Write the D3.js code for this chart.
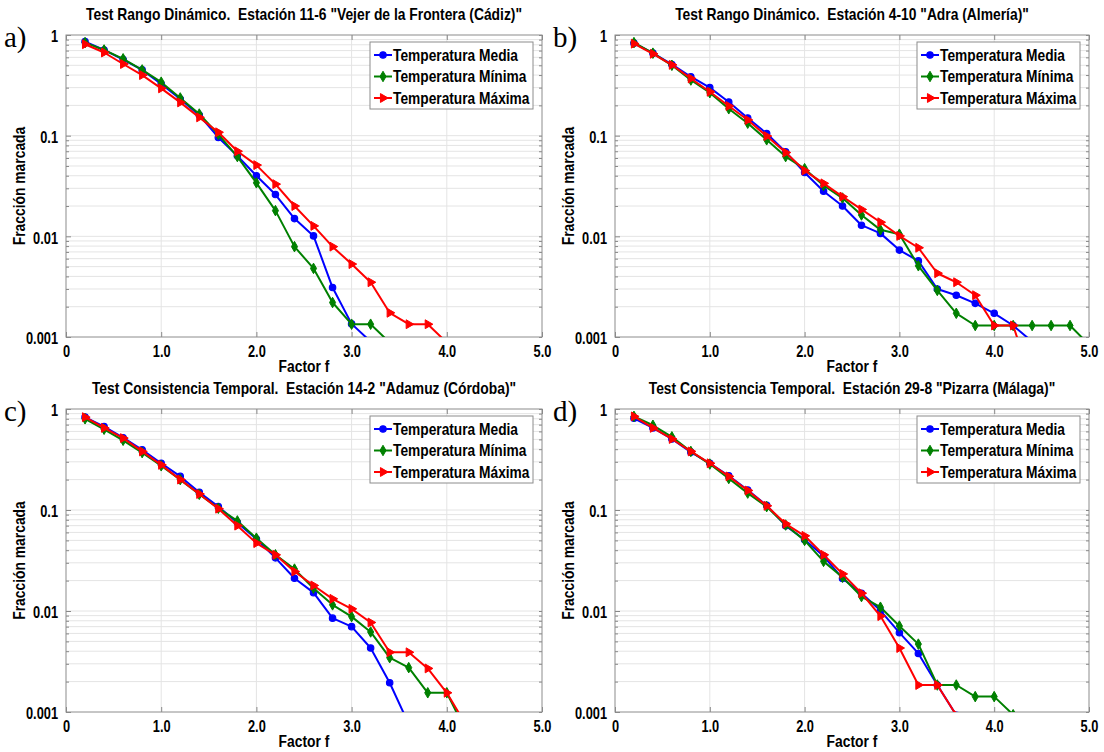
<!DOCTYPE html>
<html><head><meta charset="utf-8">
<script src="https://cdn.jsdelivr.net/npm/d3@7"></script>
<style>
html,body{margin:0;padding:0;background:#fff;}
svg{display:block;}
text{white-space:pre;}
</style></head>
<body>
<svg id="chart" width="1104" height="752"></svg>
<script>
// ---------- DATA ----------
const factorF = [0.2,0.4,0.6,0.8,1.0,1.2,1.4,1.6,1.8,2.0,2.2,2.4,2.6,2.8,3.0,3.2,3.4,3.6,3.8,4.0,4.2,4.4,4.6,4.8,5.0];
const seriesNames = ["Temperatura Media","Temperatura Mínima","Temperatura Máxima"];
const xTickValues = [0,1,2,3,4,5];
const xTickLabels = ["0","1.0","2.0","3.0","4.0","5.0"];
const yTickValues = [1,0.1,0.01,0.001];
const yTickLabels = ["1","0.1","0.01","0.001"];
const panelTags = ["a)","b)","c)","d)"];
const panelTitles = [
  'Test Rango Dinámico.  Estación 11-6 "Vejer de la Frontera (Cádiz)"',
  'Test Rango Dinámico.  Estación 4-10 "Adra (Almería)"',
  'Test Consistencia Temporal.  Estación 14-2 "Adamuz (Córdoba)"',
  'Test Consistencia Temporal.  Estación 29-8 "Pizarra (Málaga)"'
];
const xLabel = "Factor f";
const yLabel = "Fracción marcada";

const aMedia  = [0.86,0.71,0.57,0.45,0.326,0.231,0.16,0.096,0.063,0.040,0.026,0.015,0.0101,0.0031,0.00135,0.0009];
const aMinima = [0.84,0.71,0.58,0.45,0.34,0.237,0.164,0.103,0.062,0.034,0.018,0.0079,0.0048,0.0022,0.00134,0.00134,0.00088];
const aMaxima = [0.81,0.67,0.515,0.40,0.295,0.214,0.152,0.108,0.070,0.051,0.033,0.020,0.0127,0.0079,0.0053,0.0035,0.00174,0.00134,0.00134,0.00088];

const bMedia  = [0.83,0.66,0.51,0.385,0.30,0.216,0.150,0.105,0.069,0.043,0.028,0.020,0.0129,0.0107,0.0073,0.0057,0.0030,0.0026,0.00216,0.00172,0.0013,0.0009];
const bMinima = [0.84,0.66,0.50,0.357,0.267,0.185,0.133,0.091,0.062,0.047,0.032,0.024,0.0163,0.0116,0.0105,0.0051,0.0029,0.00172,0.0013,0.0013,0.0013,0.0013,0.0013,0.0013,0.00084];
const bMaxima = [0.82,0.65,0.505,0.37,0.273,0.197,0.143,0.099,0.068,0.045,0.0336,0.0248,0.0185,0.0138,0.0101,0.0077,0.0043,0.0035,0.0026,0.0013,0.0013,0.00035];

const cMedia  = [0.83,0.67,0.52,0.395,0.29,0.215,0.150,0.108,0.075,0.0515,0.0336,0.0211,0.0152,0.0085,0.0070,0.0043,0.00195,0.00076];
const cMinima = [0.80,0.63,0.49,0.37,0.274,0.20,0.143,0.104,0.078,0.0526,0.036,0.026,0.0168,0.0115,0.0088,0.0062,0.00345,0.00275,0.00155,0.00155,0.00065];
const cMaxima = [0.83,0.65,0.515,0.38,0.28,0.20,0.144,0.103,0.070,0.047,0.036,0.0246,0.0179,0.0132,0.0105,0.0077,0.0039,0.0039,0.0027,0.00155,0.00075];

const dMedia  = [0.81,0.65,0.505,0.374,0.29,0.218,0.158,0.111,0.070,0.0507,0.035,0.021,0.015,0.0101,0.0061,0.0038,0.00185,0.00093];
const dMinima = [0.845,0.69,0.53,0.38,0.285,0.205,0.147,0.108,0.071,0.050,0.031,0.0216,0.0139,0.0109,0.0071,0.0047,0.00185,0.00185,0.00142,0.00142,0.00094];
const dMaxima = [0.845,0.65,0.505,0.38,0.29,0.215,0.156,0.110,0.073,0.0555,0.036,0.0233,0.015,0.0089,0.0043,0.00185,0.00185,0.00093];

const panelSeries = [
  [aMedia,aMinima,aMaxima],
  [bMedia,bMinima,bMaxima],
  [cMedia,cMinima,cMaxima],
  [dMedia,dMinima,dMaxima]
];

// ---------- STYLE / LAYOUT ----------
const colors = ["#0000ff","#008000","#ff0000"];
const layout = [
  {x0:66, x1:542, y0:35, y1:337},
  {x0:615,x1:1089,y0:35, y1:337},
  {x0:66, x1:542, y0:409,y1:712},
  {x0:615,x1:1089,y0:409,y1:712}
];
const FONT = "'Liberation Sans', Arial, Helvetica, sans-serif";
const CONDENSE = 0.84;

const svg = d3.select("#chart");

// place a horizontally condensed text at (cx, cy)
function ctext(g, cx, cy, str, size, f, anchor, rot){
  const tr = `translate(${cx},${cy})` + (rot ? ` rotate(${rot})` : "") + ` scale(${f},1)`;
  return g.append("text").attr("transform",tr).attr("x",0).attr("y",0)
    .attr("text-anchor",anchor).attr("font-family",FONT).attr("font-weight","bold")
    .attr("font-size",size).attr("fill","#000").text(str);
}

function drawMarker(g, k, x, y){
  const c = colors[k];
  if(k===0){
    g.append("circle").attr("cx",x).attr("cy",y).attr("r",3.2)
      .attr("fill",c).attr("stroke",c).attr("stroke-width",1.2);
  } else if(k===1){
    g.append("path").attr("d",d3.symbol().type(d3.symbolDiamond).size(32)())
      .attr("transform",`translate(${x},${y})`)
      .attr("fill",c).attr("stroke",c).attr("stroke-width",1);
  } else {
    g.append("path").attr("d",d3.symbol().type(d3.symbolTriangle).size(34)())
      .attr("transform",`translate(${x},${y}) rotate(90)`)
      .attr("fill",c).attr("stroke",c).attr("stroke-width",1);
  }
}

layout.forEach((L,pi)=>{
  const x = d3.scaleLinear().domain([0,5]).range([L.x0,L.x1]);
  const y = d3.scaleLog().domain([0.001,1]).range([L.y1,L.y0]);
  const g = svg.append("g");

  const cid = "clip"+pi;
  svg.append("defs").append("clipPath").attr("id",cid)
    .append("rect").attr("x",L.x0).attr("y",L.y0).attr("width",L.x1-L.x0).attr("height",L.y1-L.y0);

  const minor = [];
  [0.001,0.01,0.1].forEach(d=>{ for(let m=2;m<=9;m++) minor.push(d*m); });

  const grid = g.append("g");
  grid.selectAll("line.hg").data(minor.concat([0.01,0.1])).enter().append("line")
    .attr("x1",L.x0).attr("x2",L.x1).attr("y1",d=>y(d)).attr("y2",d=>y(d))
    .attr("stroke","#e4e4e4").attr("stroke-width",1);
  grid.selectAll("line.vg").data([1,2,3,4]).enter().append("line")
    .attr("y1",L.y0).attr("y2",L.y1).attr("x1",d=>x(d)).attr("x2",d=>x(d))
    .attr("stroke","#e4e4e4").attr("stroke-width",1);

  const yAxisL = d3.axisLeft(y).tickValues(yTickValues).tickFormat((d,i)=>yTickLabels[i]).tickSizeInner(-5).tickSizeOuter(0).tickPadding(10);
  const yAx = g.append("g").attr("transform",`translate(${L.x0},0)`).call(yAxisL);
  yAx.select(".domain").remove();
  yAx.selectAll(".tick line").attr("stroke","#888");
  yAx.selectAll("text").attr("font-family",FONT).attr("font-weight","bold").attr("font-size",16)
    .attr("fill","#000").attr("dy","0.42em").attr("transform","scale(0.8,1)");
  const yMinL = d3.axisLeft(y).tickValues(minor).tickFormat("").tickSizeInner(-3).tickSizeOuter(0);
  const ymA = g.append("g").attr("transform",`translate(${L.x0},0)`).call(yMinL);
  ymA.select(".domain").remove(); ymA.selectAll(".tick line").attr("stroke","#888");
  const yMinR = d3.axisRight(y).tickValues(minor.concat(yTickValues)).tickFormat("").tickSizeInner(-3).tickSizeOuter(0);
  const ymR = g.append("g").attr("transform",`translate(${L.x1},0)`).call(yMinR);
  ymR.select(".domain").remove(); ymR.selectAll(".tick line").attr("stroke","#888");

  const xAxisB = d3.axisBottom(x).tickValues(xTickValues).tickFormat((d,i)=>xTickLabels[i]).tickSizeInner(-5).tickSizeOuter(0).tickPadding(8);
  const xAx = g.append("g").attr("transform",`translate(0,${L.y1})`).call(xAxisB);
  xAx.select(".domain").remove();
  xAx.selectAll(".tick line").attr("stroke","#888");
  xAx.selectAll("text").attr("font-family",FONT).attr("font-weight","bold").attr("font-size",16)
    .attr("fill","#000").attr("dy","0.72em").attr("transform","scale(0.8,1)");
  const xAxisT = d3.axisTop(x).tickValues(xTickValues).tickFormat("").tickSizeInner(-5).tickSizeOuter(0);
  const xT = g.append("g").attr("transform",`translate(0,${L.y0})`).call(xAxisT);
  xT.select(".domain").remove(); xT.selectAll(".tick line").attr("stroke","#888");

  g.append("rect").attr("x",L.x0).attr("y",L.y0).attr("width",L.x1-L.x0).attr("height",L.y1-L.y0)
    .attr("fill","none").attr("stroke","#8c8c8c").attr("stroke-width",1);

  const plot = g.append("g").attr("clip-path",`url(#${cid})`);
  const line = d3.line().x(d=>x(d[0])).y(d=>y(d[1]));
  panelSeries[pi].forEach((vals,k)=>{
    const pts = vals.map((v,i)=>[factorF[i],v]);
    plot.append("path").datum(pts).attr("d",line)
      .attr("fill","none").attr("stroke",colors[k]).attr("stroke-width",2).attr("stroke-linejoin","round");
    pts.forEach(p=>drawMarker(plot,k,x(p[0]),y(p[1])));
  });

  // title, axis labels
  ctext(g, (L.x0+L.x1)/2, L.y0-15, panelTitles[pi], 16.5, CONDENSE, "middle");
  ctext(g, (L.x0+L.x1)/2, L.y1+35, xLabel, 16.5, CONDENSE, "middle");
  ctext(g, L.x0-41, (L.y0+L.y1)/2, yLabel, 16.5, CONDENSE, "middle", -90);

  g.append("text").attr("x",L.x0-62).attr("y",L.y0+12)
    .attr("font-family","'Liberation Serif','DejaVu Serif',serif").attr("font-size",29)
    .text(panelTags[pi]);

  const lw = 163, lh = 67;
  const lx = L.x1 - 9 - lw, ly = L.y0 + 7;
  const leg = g.append("g");
  leg.append("rect").attr("x",lx).attr("y",ly).attr("width",lw).attr("height",lh)
    .attr("fill","#fff").attr("stroke","#8c8c8c").attr("stroke-width",1);
  seriesNames.forEach((nm,k)=>{
    const yy = ly + 13 + k*21.5;
    leg.append("line").attr("x1",lx+4).attr("x2",lx+22).attr("y1",yy).attr("y2",yy)
      .attr("stroke",colors[k]).attr("stroke-width",2);
    drawMarker(leg,k,lx+13,yy);
    ctext(leg, lx+23, yy+5.7, nm, 16, 0.86, "start");
  });
});
</script>
</body></html>
